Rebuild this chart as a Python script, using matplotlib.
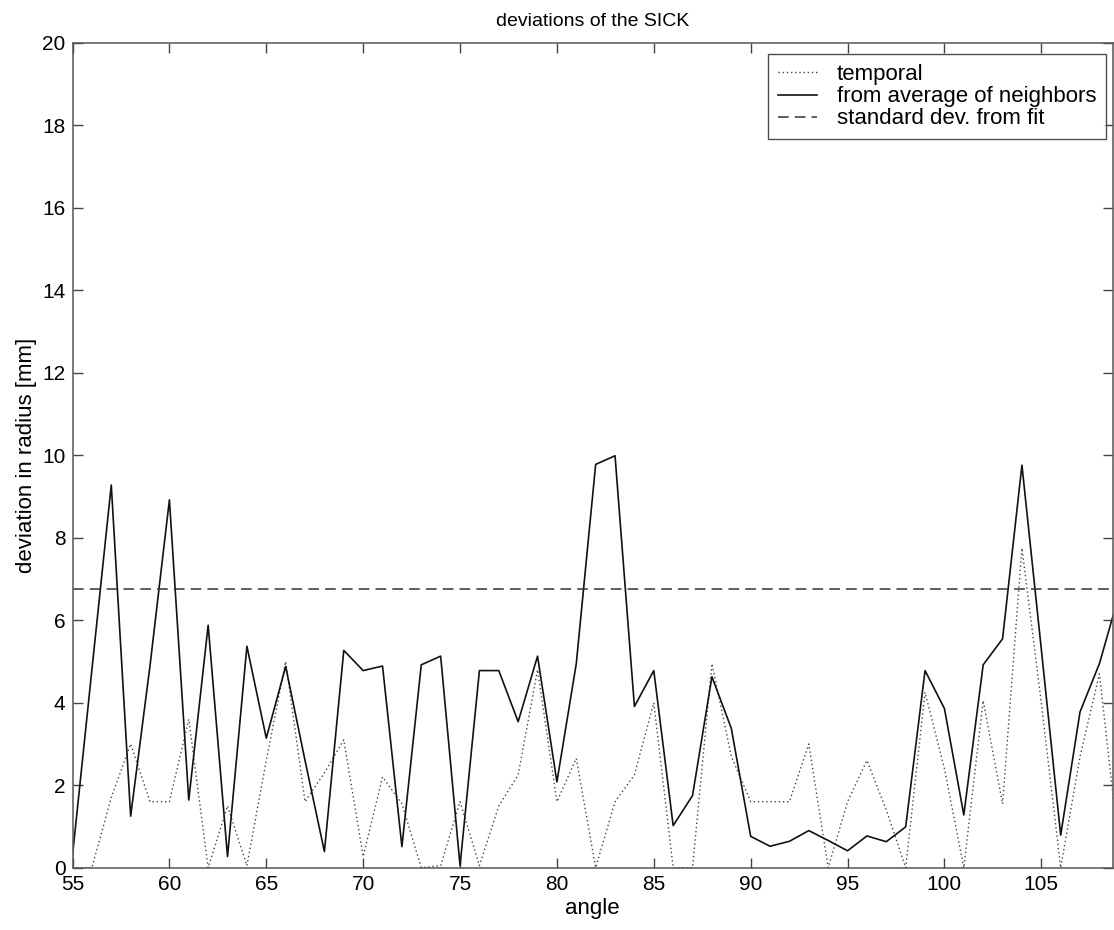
import numpy as np
import matplotlib
matplotlib.use("Agg")
import matplotlib.pyplot as plt

# Scan angles in degrees
angle = np.arange(55, 110)

# Temporal deviation of the range readings [mm]
temporal = [0.0, 0.0, 1.7, 3.0, 1.6, 1.6, 3.6, 0.0, 1.5, 0.05,
            2.6, 5.0, 1.6, 2.3, 3.1, 0.27, 2.2, 1.55, 0.0, 0.05,
            1.6, 0.05, 1.5, 2.25, 4.8, 1.6, 2.65, 0.0, 1.6, 2.25,
            4.0, 0.0, 0.0, 4.95, 2.7, 1.6, 1.6, 1.6, 3.0, 0.0,
            1.6, 2.6, 1.4, 0.0, 4.25, 2.4, 0.0, 4.05, 1.55, 7.75,
            4.0, 0.0, 2.7, 4.7, 0.5]

# Deviation from the average of the two neighboring beams [mm]
neighbors = [0.3, 4.8, 9.28, 1.25, 4.9, 8.92, 1.64, 5.88, 0.27, 5.37,
             3.14, 4.88, 2.6, 0.39, 5.27, 4.78, 4.89, 0.51, 4.92, 5.13,
             0.05, 4.78, 4.78, 3.54, 5.13, 2.08, 4.95, 9.78, 9.99, 3.91,
             4.78, 1.02, 1.75, 4.63, 3.38, 0.76, 0.52, 0.64, 0.9, 0.66,
             0.41, 0.77, 0.63, 0.99, 4.78, 3.86, 1.28, 4.92, 5.55, 9.76,
             5.3, 0.79, 3.78, 4.95, 6.6]

# Standard deviation of the residuals of the fit [mm]
fit_std = 6.77

xticks = [55, 60, 65, 70, 75, 80, 85, 90, 95, 100, 105]
yticks = [0, 2, 4, 6, 8, 10, 12, 14, 16, 18, 20]

plt.rcParams["font.family"] = ["Liberation Sans", "DejaVu Sans"]

fig = plt.figure(figsize=(11.14, 9.30), dpi=100)
ax = fig.add_axes([0.0651, 0.067, 0.934, 0.8868])

ax.plot(angle, temporal, linestyle=(0, (1, 2.0)), color="#444444",
        linewidth=1.0, label="temporal")
ax.plot(angle, neighbors, linestyle="-", color="#111111",
        linewidth=1.2, label="from average of neighbors")
ax.axhline(fit_std, linestyle=(0, (7, 4)), color="#333333",
           linewidth=1.1, label="standard dev. from fit")

ax.set_xlim(55, 108.7)
ax.set_ylim(0, 20)
ax.set_xticks(xticks)
ax.set_yticks(yticks)
ax.tick_params(direction="in", length=7, width=1, colors="#444444",
               labelcolor="black", labelsize=15, top=True, right=True,
               pad=5)
for s in ax.spines.values():
    s.set_color("#555555")
    s.set_linewidth(1.1)

ax.set_title("deviations of the SICK", fontsize=14, pad=12)
ax.set_xlabel("angle", fontsize=16, labelpad=3)
ax.set_ylabel("deviation in radius [mm]", fontsize=16, labelpad=4)

leg = ax.legend(loc="upper right", bbox_to_anchor=(1.0, 0.9945),
                fontsize=16, frameon=True, fancybox=False,
                handlelength=1.75, handletextpad=0.9, borderpad=0.45,
                labelspacing=0.05, borderaxespad=0.3)
leg.get_frame().set_edgecolor("#222222")
leg.get_frame().set_linewidth(1.0)

fig.savefig("out.png", dpi=100, facecolor="white")
